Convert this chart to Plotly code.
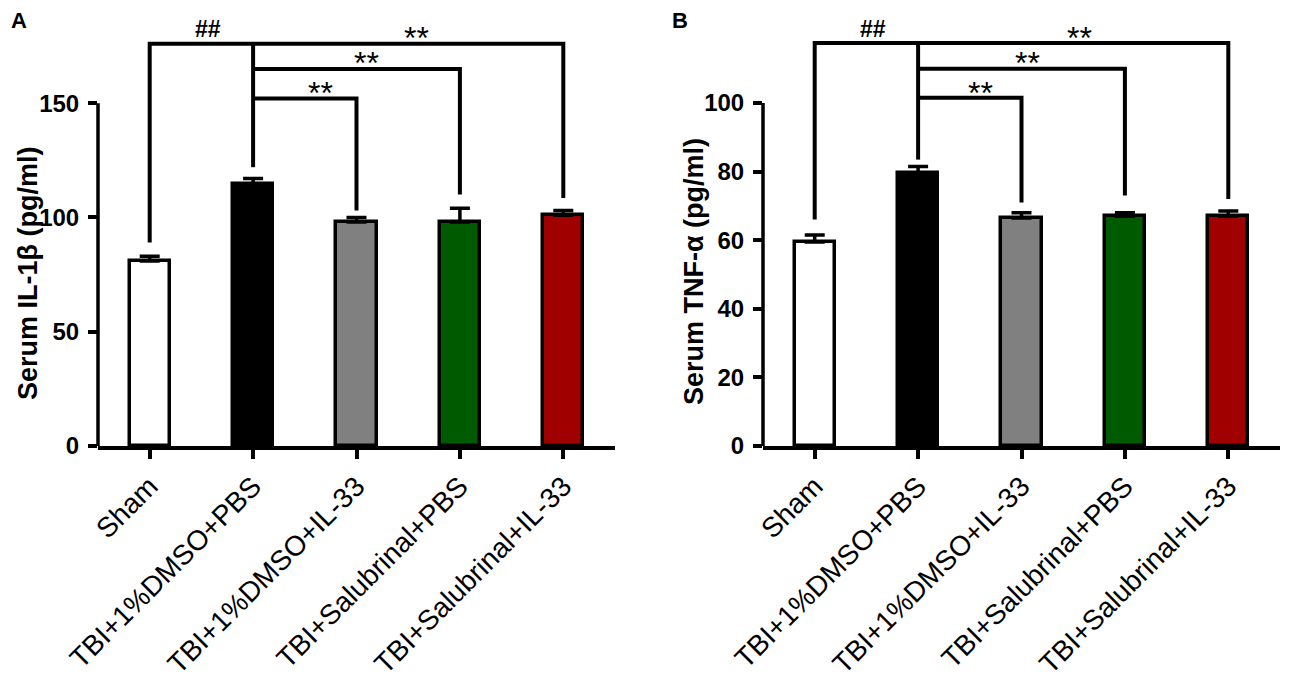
import plotly.graph_objects as go
from plotly.subplots import make_subplots

# groups / colours (GraphPad style)
groups = ["Sham", "TBI+1%DMSO+PBS", "TBI+1%DMSO+IL-33",
          "TBI+Salubrinal+PBS", "TBI+Salubrinal+IL-33"]
bar_colors = ["#ffffff", "#000000", "#808080", "#005a00", "#a00000"]

# panel A: serum IL-1beta
il1b_mean = [81, 114.5, 98, 98, 101]
il1b_sem = [2, 2.5, 2, 6, 2]
il1b_ticks = [0, 50, 100, 150]
# bracket heights (top, middle, low) and where each vertical leg stops
il1b_levels = [176, 165, 152]
il1b_legs = [89, 122, 103, 110, 108.5]
il1b_marks = [("##", 0.56, 182.4), ("**", 2.58, 178.5), ("**", 2.1, 167.5), ("**", 1.65, 154.5)]

# panel B: serum TNF-alpha
tnf_mean = [59.5, 79.5, 66.5, 67, 67]
tnf_sem = [2, 2, 1.5, 1, 1.5]
tnf_ticks = [0, 20, 40, 60, 80, 100]
tnf_levels = [117.5, 110, 101.5]
tnf_legs = [66, 83.5, 71, 73, 72]
tnf_marks = [("##", 0.56, 121.6), ("**", 2.56, 119.0), ("**", 2.06, 111.7), ("**", 1.6, 102.9)]

FONT = "Liberation Sans, Arial, sans-serif"
LW = 4
OFF = 8  # page body margin, shifts everything by 8 px

fig = make_subplots(rows=1, cols=2)
xs = list(range(len(groups)))


def add_panel(col, mean, sem, levels, legs, marks):
    fig.add_trace(go.Bar(
        x=xs, y=mean, width=0.39,
        marker=dict(color=bar_colors, line=dict(color="black", width=3.5)),
        error_y=dict(type="data", array=sem, arrayminus=[0] * len(sem), symmetric=False,
                     color="black", thickness=3.5, width=10),
        showlegend=False, hoverinfo="skip"), 1, col)
    top, mid, low = levels
    paths = [
        ([0, 0, 4, 4], [legs[0], top, top, legs[4]]),   # sham vs last
        ([1, 1], [legs[1], top]),                       # DMSO+PBS leg
        ([1, 3, 3], [mid, mid, legs[3]]),
        ([1, 2, 2], [low, low, legs[2]]),
    ]
    for px, py in paths:
        fig.add_trace(go.Scatter(x=px, y=py, mode="lines",
                                 line=dict(color="black", width=LW),
                                 showlegend=False, hoverinfo="skip"), 1, col)
    sfx = str(col) if col > 1 else ""
    for txt, mx, my in marks:
        if txt == "**":
            f = dict(size=32, family=FONT, color="black")
        else:
            f = dict(size=23, family=FONT, color="black", weight="bold")
        fig.add_annotation(x=mx, y=my, text=txt, showarrow=False, xref="x" + sfx, yref="y" + sfx,
                           xanchor="center", yanchor="middle", font=f)


add_panel(1, il1b_mean, il1b_sem, il1b_levels, il1b_legs, il1b_marks)
add_panel(2, tnf_mean, tnf_sem, tnf_levels, tnf_legs, tnf_marks)

fig.update_layout(
    width=1300, height=688, plot_bgcolor="white", paper_bgcolor="white",
    margin=dict(l=0, r=0, t=20 - OFF, b=242 + OFF), bargap=0,
    xaxis=dict(domain=[(98 - OFF) / 1300, (615 - OFF) / 1300]),
    xaxis2=dict(domain=[(763 - OFF) / 1300, (1280 - OFF) / 1300]),
)
fig.update_xaxes(range=[-0.5, 4.5], tickvals=xs, ticktext=groups, tickangle=-45,
                 showline=True, linecolor="black", linewidth=3.5, showgrid=False,
                 zeroline=False, ticks="outside", ticklen=9, tickwidth=3.5, tickcolor="black",
                 tickfont=dict(family=FONT, size=28, color="black"), automargin=False)
fig.update_yaxes(showline=False, showgrid=False, zeroline=False, ticks="outside",
                 ticklen=9, tickwidth=3.5, tickcolor="black", ticklabelstandoff=4,
                 tickfont=dict(family=FONT, size=24, color="black", weight="bold"),
                 automargin=False)
fig.update_yaxes(range=[0, 186.4], tickvals=il1b_ticks, row=1, col=1)
fig.update_yaxes(range=[0, 124.2], tickvals=tnf_ticks, row=1, col=2)

# y axis spines only reach the last tick, like the original
for yref, xref, ymax in [("y", "x domain", il1b_ticks[-1]), ("y2", "x2 domain", tnf_ticks[-1])]:
    fig.add_shape(type="line", xref=xref, yref=yref, x0=0, x1=0, y0=0, y1=ymax,
                  line=dict(color="black", width=3.5))

# axis titles and panel letters (page pixel -> paper)
PH = 426
BOT = 446 - OFF


def paper_xy(px, py):
    return (px - OFF) / 1300, (BOT - (py - OFF)) / PH


for title, tx, ty in [("Serum IL-1β (pg/ml)", 28, 273), ("Serum TNF-α (pg/ml)", 694, 272)]:
    ax_, ay_ = paper_xy(tx, ty)
    fig.add_annotation(text=title, xref="paper", yref="paper", x=ax_, y=ay_, textangle=-90,
                       showarrow=False, xanchor="center", yanchor="middle",
                       font=dict(family=FONT, size=27, color="black", weight="bold"))
for letter, lx in [("A", 19), ("B", 680)]:
    ax_, ay_ = paper_xy(lx, 20)
    fig.add_annotation(text=letter, xref="paper", yref="paper", x=ax_, y=ay_, showarrow=False,
                       xanchor="center", yanchor="middle",
                       font=dict(family=FONT, size=22, color="black", weight="bold"))

fig.write_html("out.html")
